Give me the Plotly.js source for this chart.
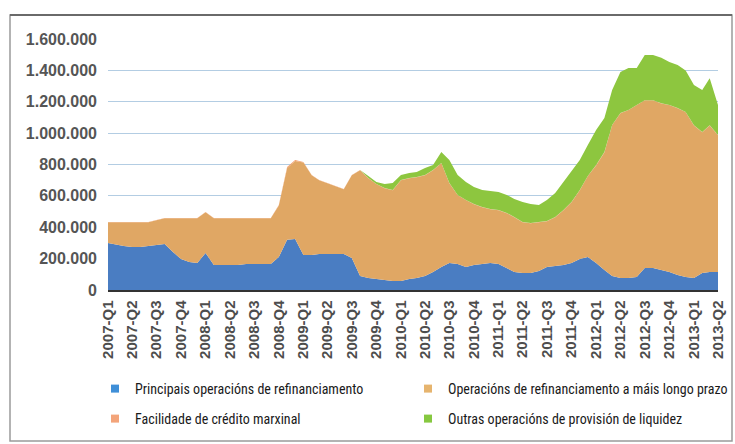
<!DOCTYPE html>
<html><head><meta charset="utf-8">
<script src="https://cdn.plot.ly/plotly-3.0.1.min.js"></script>
<style>html,body{margin:0;padding:0;background:#fff}#chart{width:735px;height:444px}</style>
</head><body><div id="chart"></div>
<script>
// monthly observations, 2007-01 .. 2013-04
const firstYear = 2007;
const nMonths = 76;
const months = [];
for (let i = 0; i < nMonths; i++) {
  const y = firstYear + Math.floor(i / 12), m = (i % 12) + 1;
  months.push(y + '-' + String(m).padStart(2, '0') + '-01');
}

const quarterLabels = ['2007-Q1','2007-Q2','2007-Q3','2007-Q4','2008-Q1','2008-Q2','2008-Q3','2008-Q4',
  '2009-Q1','2009-Q2','2009-Q3','2009-Q4','2010-Q1','2010-Q2','2010-Q3','2010-Q4',
  '2011-Q1','2011-Q2','2011-Q3','2011-Q4','2012-Q1','2012-Q2','2012-Q3','2012-Q4','2013-Q1','2013-Q2'];
const quarterStart = {Q1:'01', Q2:'04', Q3:'07', Q4:'10'};
const quarterTicks = quarterLabels.map(q => q.slice(0,4) + '-' + quarterStart[q.slice(5)] + '-01');

const seriesNames = ['Principais operacións de refinanciamento',
  'Operacións de refinanciamento a máis longo prazo',
  'Facilidade de crédito marxinal',
  'Outras operacións de provisión de liquidez'];

const mro = [300000,287000,280000,274000,274000,280000,287000,293000,242000,198000,
  178000,172000,236000,160000,160000,160000,160000,166000,166000,166000,
  166000,210000,320000,325000,223000,223000,230000,230000,230000,230000,
  204000,89000,76000,70000,64000,57000,57000,70000,76000,89000,
  115000,147000,172000,166000,147000,160000,166000,172000,166000,140000,
  115000,108000,108000,121000,147000,153000,160000,172000,198000,210000,
  172000,127000,89000,76000,76000,83000,140000,140000,127000,115000,
  96000,83000,76000,108000,115000,115000];

const ltro = [132000,145000,152000,158000,158000,152000,158000,165000,216000,260000,
  280000,286000,260000,298000,298000,298000,298000,292000,292000,292000,
  292000,328000,456000,498000,590000,509000,470000,451000,432000,413000,
  528000,675000,637000,605000,585000,579000,643000,643000,643000,643000,
  649000,662000,509000,439000,426000,387000,362000,343000,343000,350000,
  349000,324000,318000,311000,292000,311000,349000,388000,438000,516000,
  621000,750000,962000,1051000,1071000,1096000,1069000,1069000,1062000,1064000,
  1063000,1051000,973000,898000,934000,872000];

const marginal = [1000,1000,1000,1000,1000,1000,1000,1000,1000,1000,
  1000,1000,1000,1000,1000,1000,1000,1000,1000,1000,
  1000,4000,8000,6000,3000,1000,1000,1000,1000,1000,
  1000,1000,1000,1000,1000,1000,1000,1000,1000,1000,
  1000,1000,1000,1000,1000,1000,1000,1000,1000,1000,
  1000,1000,1000,1000,1000,1000,1000,1000,1000,1000,
  4000,3000,1000,1000,1000,1000,1000,1000,1000,1000,
  1000,1000,1000,1000,1000,1000];

const other = [0,0,0,0,0,0,0,0,0,0,
  0,0,0,0,0,0,0,0,0,0,
  0,0,0,0,0,0,0,0,0,0,
  0,0,13000,12000,26000,45000,32000,32000,32000,45000,
  32000,70000,147000,127000,114000,109000,108000,115000,115000,115000,
  115000,128000,121000,109000,134000,153000,178000,191000,192000,197000,
  223000,216000,223000,262000,267000,235000,288000,288000,290000,273000,
  274000,265000,257000,268000,300000,192000];

const colors = ['#4a7dc2', '#e0a764', '#f2a070', '#8dc63f'];
const legendMarkerColors = ['#3f8fd8', '#e6b46e', '#f3a47a', '#86c840'];
const seriesData = [mro, ltro, marginal, other];

const traces = [];
seriesData.forEach((vals, i) => {
  traces.push({
    x: months, y: vals, type: 'scatter', mode: 'lines',
    stackgroup: 'one', name: seriesNames[i],
    line: {width: 0, color: colors[i]}, fillcolor: colors[i],
    showlegend: false, hoverinfo: 'x+y+name'
  });
});
const legendIds = ['legend', 'legend2', 'legend3', 'legend4'];
seriesData.forEach((vals, i) => {
  traces.push({
    x: [null], y: [null], type: 'scatter', mode: 'markers',
    name: seriesNames[i], legend: legendIds[i],
    marker: {symbol: 'square', size: 8, color: legendMarkerColors[i]},
    showlegend: true
  });
});

// plot area in px
const L = 108, R = 17, T = 39, B = 154, W = 735 - L - R, H = 444 - T - B;
const px = v => (v - L) / W;
const py = v => (444 - B - v) / H;

const legFont = {family: '"Liberation Sans Narrow", "Roboto Condensed", "Arial Narrow", sans-serif', size: 14, color: '#1a1a1a'};
function leg(xp, yp) {
  return {x: px(xp), y: py(yp), xanchor: 'left', yanchor: 'middle', orientation: 'v',
    indentation: -15, bgcolor: 'rgba(0,0,0,0)', borderwidth: 0, font: legFont};
}

const layout = {
  width: 735, height: 444,
  margin: {l: L, r: R, t: T, b: B, autoexpand: false},
  paper_bgcolor: '#ffffff', plot_bgcolor: '#ffffff',
  separators: ',.',
  showlegend: true,
  xaxis: {
    type: 'date', range: [months[0], months[nMonths - 1]],
    tickmode: 'array', tickvals: quarterTicks, ticktext: quarterLabels,
    tickangle: -90, showgrid: false, zeroline: false,
    showline: true, linecolor: '#333333', linewidth: 1.5,
    ticks: '', ticklabelstandoff: 3,
    tickfont: {family: '"Liberation Sans", Arial, sans-serif', size: 15, color: '#4d4d4d', weight: 'bold'}
  },
  yaxis: {
    range: [0, 1600000], tickmode: 'linear', tick0: 0, dtick: 200000,
    tickformat: ',d', showgrid: true, gridcolor: '#b3cde3', gridwidth: 1.2,
    zeroline: false, showline: false, ticks: '', ticklabelstandoff: 10,
    tickfont: {family: '"Liberation Sans", Arial, sans-serif', size: 16, color: '#555555', weight: 'bold'}
  },
  legend: leg(110, 389),
  legend2: leg(423, 389),
  legend3: leg(110, 419),
  legend4: leg(423, 419),
  shapes: [
    {type: 'rect', xref: 'paper', yref: 'paper', x0: px(10), x1: px(732), y0: py(441), y1: py(15),
      line: {color: '#9a9a9a', width: 1.5}, fillcolor: 'rgba(0,0,0,0)', layer: 'above'},
    {type: 'line', xref: 'paper', yref: 'paper', x0: px(10), x1: px(732), y0: py(15), y1: py(15),
      line: {color: '#6a6a6a', width: 2}, layer: 'above'}
  ]
};

Plotly.newPlot('chart', traces, layout, {displayModeBar: false, staticPlot: true});
</script></body></html>
